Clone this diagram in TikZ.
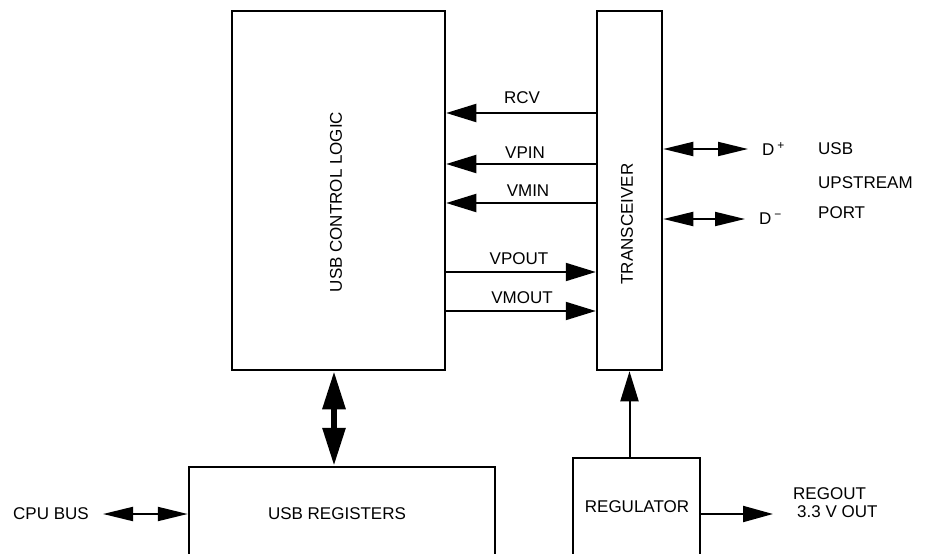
\documentclass[tikz,border=0pt]{standalone}
\usepackage{fontspec}
\setmainfont{Liberation Sans}
\usetikzlibrary{arrows.meta,positioning}

\tikzset{
  blk/.style={draw,line width=2.5pt,inner sep=0pt},
  lbl/.style={inner sep=1pt},
  sig/.style={line width=2pt,-{Triangle[length=30pt,width=18pt]}},
  dsig/.style={line width=2pt,{Triangle[length=30pt,width=14pt]}-{Triangle[length=30pt,width=14pt]}},
  fat/.style={line width=6pt,{Triangle[length=38pt,width=22pt]}-{Triangle[length=38pt,width=22pt]}}
}

\begin{document}
\begin{tikzpicture}[x=1pt,y=-1pt,font=\fontsize{17}{20}\selectfont]
        \useasboundingbox (0,0) rectangle (932,554);
        % blocks
        \node[blk,minimum width=213pt,minimum height=359pt] (ctrl) at (338.5,190.5) {};
        \node[blk,minimum width=65pt,minimum height=359pt] (trans) at (629.5,190.5) {};
        \node[blk,minimum width=306pt,minimum height=133pt] (regs) at (342,533.5) {};
        \node[blk,minimum width=127pt,minimum height=142pt] (reg) at (636.5,529) {};
        \node[lbl,rotate=90] (ctrltxt) at (336,202) {USB CONTROL LOGIC};
        \node[lbl,rotate=90] (transtxt) at (627,224) {TRANSCEIVER};
        \node[lbl] (regstxt) at (337,514) {USB REGISTERS};
        \node[lbl] (regtxt) at (637,507) {REGULATOR};
        % signals between logic and transceiver
        \coordinate (yrcv) at (0,113);
        \coordinate (yvpin) at (0,164);
        \coordinate (yvmin) at (0,203);
        \coordinate (yvpout) at (0,272);
        \coordinate (yvmout) at (0,311);
        \draw[sig] (trans.west |- yrcv) -- (ctrl.east |- yrcv);
        \draw[sig] (trans.west |- yvpin) -- (ctrl.east |- yvpin);
        \draw[sig] (trans.west |- yvmin) -- (ctrl.east |- yvmin);
        \draw[sig] (ctrl.east |- yvpout) -- (trans.west |- yvpout);
        \draw[sig] (ctrl.east |- yvmout) -- (trans.west |- yvmout);
        \node[lbl] (rcv) at (522,98) {RCV};
        \node[lbl] (vpin) at (525,153) {VPIN};
        \node[lbl] (vmin) at (528,191) {VMIN};
        \node[lbl] (vpout) at (519,259) {VPOUT};
        \node[lbl] (vmout) at (522,298) {VMOUT};
        % usb port
        \coordinate (dp) at (748,149);
        \coordinate (dm) at (745,219);
        \draw[dsig] (trans.east |- dp) -- (dp);
        \draw[dsig] (trans.east |- dm) -- (dm);
        \node[lbl,anchor=west] (dplus) at (761,149) {D\,\raisebox{6pt}{\fontsize{12}{12}\selectfont +}};
        \node[lbl,anchor=west] (dminus) at (758,219) {D\,\raisebox{6pt}{\fontsize{12}{12}\selectfont −}};
        \node[lbl,anchor=west] (usb) at (817,149) {USB};
        \node[lbl,anchor=west] (upstr) at (817,183) {UPSTREAM};
        \node[lbl,anchor=west] (port) at (817,213) {PORT};
        % bus and supply
        \coordinate (busx) at (334,0);
        \draw[fat] (ctrl.south -| busx) -- (regs.north -| busx);
        \draw[sig] (reg.north -| trans.south) -- (trans.south);
        \coordinate (cpupt) at (103,514);
        \draw[dsig] (cpupt) -- (regs.west |- cpupt);
        \node[lbl] (cpu) at (51,514) {CPU BUS};
        \coordinate (regoutpt) at (773,514);
        \draw[sig,-{Triangle[length=30pt,width=16pt]}] (reg.east |- regoutpt) -- (regoutpt);
        \node[lbl,anchor=west,align=left,font=\fontsize{17}{18}\selectfont] (regout) at (792,503) {REGOUT\\\hspace*{4pt}3.3 V OUT};
      \end{tikzpicture}
\end{document}
